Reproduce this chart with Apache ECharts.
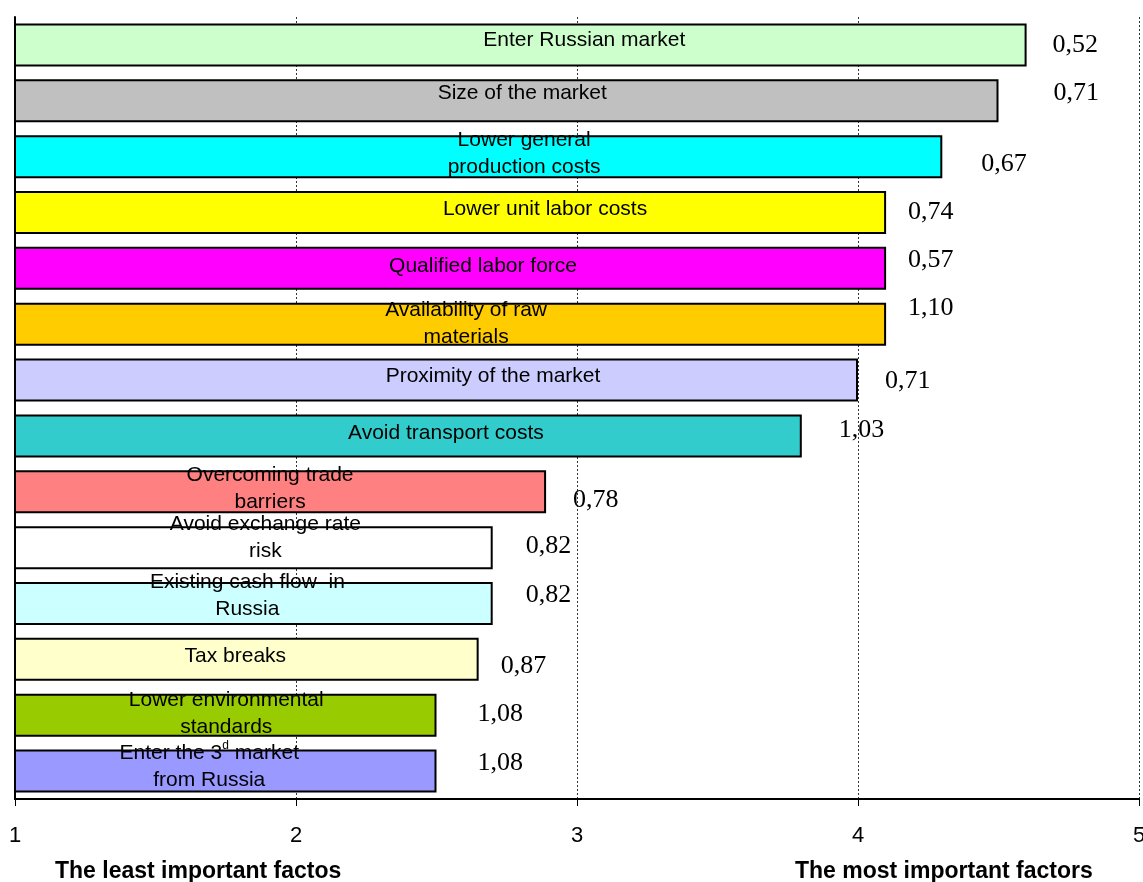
<!DOCTYPE html>
<html>
<head>
<meta charset="utf-8">
<title>Motives for investing in Russia</title>
<script src="https://cdn.jsdelivr.net/npm/echarts@6/dist/echarts.min.js"></script>
<style>
  html, body { margin: 0; padding: 0; background: #ffffff; }
  #chart { width: 1143px; height: 882px; }
</style>
</head>
<body>
<div id="chart"></div>
<script>
// Motives, from top to bottom
const factors = [
  'Enter Russian market',
  'Size of the market',
  'Lower general\nproduction costs',
  'Lower unit labor costs',
  'Qualified labor force',
  'Availability of raw\nmaterials',
  'Proximity of the market',
  'Avoid transport costs',
  'Overcoming trade\nbarriers',
  'Avoid exchange rate\nrisk',
  'Existing cash flow  in\nRussia',
  'Tax breaks',
  'Lower environmental\nstandards',
  'Enter the 3{sup|d} market\nfrom Russia'
];

// Mean importance score (1 = least important, 5 = most important)
const meanScore = [4.6, 4.5, 4.3, 4.1, 4.1, 4.1, 4.0, 3.8, 2.89, 2.7, 2.7, 2.65, 2.5, 2.5];

// Standard deviation of the score
const stdDev = [0.52, 0.71, 0.67, 0.74, 0.57, 1.10, 0.71, 1.03, 0.78, 0.82, 0.82, 0.87, 1.08, 1.08];

// Axis ticks
const axisTicks = [1, 2, 3, 4, 5];

const barColors = ['#CCFFCC', '#C0C0C0', '#00FFFF', '#FFFF00', '#FF00FF', '#FFCC00', '#CCCCFF',
                   '#33CCCC', '#FF8080', '#FFFFFF', '#CCFFFF', '#FFFFCC', '#99CC00', '#9999FF'];

// Label nudges [dx, dy] for the factor names and the deviation figures
const nameNudge = [[64, -5], [16, -8], [46, -3], [95, -3], [33, -2], [16, -1], [57, -4],
                   [38, -3], [-10, -3], [12, -10], [-6, -8], [-11, -3], [1, -2], [-16, -4]];
const sdNudge = [[21, 0], [50, -8], [34, 8], [17, 0], [17, -8], [17, -16], [22, 1],
                 [32, -6], [22, 8], [28, -1], [28, -8], [17, 7], [36, -1], [36, -8]];

const chart = echarts.init(document.getElementById('chart'), null, { renderer: 'canvas' });

const nameData = meanScore.map((v, i) => ({
  value: v,
  itemStyle: { color: barColors[i] },
  label: { offset: nameNudge[i] }
}));

const sdData = meanScore.map((v, i) => ({
  value: v,
  label: {
    offset: sdNudge[i],
    formatter: stdDev[i].toFixed(2).replace('.', ',')
  }
}));

chart.setOption({
  backgroundColor: '#ffffff',
  animation: false,
  grid: { left: 15, right: 4, top: 17, bottom: 83, containLabel: false, outerBoundsMode: 'none' },
  xAxis: {
    type: 'value',
    min: 1,
    max: 5,
    interval: 1,
    axisLine: { show: true, lineStyle: { color: '#000', width: 2 } },
    axisTick: { show: true, length: 7, lineStyle: { color: '#000', width: 1 } },
    axisLabel: {
      margin: 26,
      color: '#000',
      fontFamily: 'Liberation Sans, Arial, sans-serif',
      fontSize: 22,
      formatter: v => axisTicks.includes(v) ? String(v) : ''
    },
    splitLine: { show: true, lineStyle: { color: '#333', width: 1, type: [2, 2] } }
  },
  yAxis: {
    type: 'category',
    data: factors,
    inverse: true,
    axisLine: { show: true, lineStyle: { color: '#000', width: 2 } },
    axisTick: { show: false },
    axisLabel: { show: false },
    splitLine: { show: false }
  },
  series: [
    {
      type: 'bar',
      data: nameData,
      barCategoryGap: '23%',
      itemStyle: { borderColor: '#000', borderWidth: 2 },
      label: {
        show: true,
        position: 'inside',
        formatter: p => factors[p.dataIndex],
        color: '#000',
        fontFamily: 'Liberation Sans, Arial, sans-serif',
        fontSize: 21,
        lineHeight: 27,
        align: 'center',
        rich: {
          sup: {
            fontFamily: 'Liberation Sans, Arial, sans-serif',
            fontSize: 12,
            verticalAlign: 'top',
            padding: [0, 0, 10, 0],
            lineHeight: 27
          }
        }
      },
      z: 2
    },
    {
      type: 'bar',
      data: sdData,
      barGap: '-100%',
      barCategoryGap: '23%',
      silent: true,
      itemStyle: { color: 'rgba(0,0,0,0)' },
      label: {
        show: true,
        position: 'right',
        distance: 5,
        color: '#000',
        fontFamily: 'Liberation Serif, Times New Roman, serif',
        fontSize: 26
      },
      z: 3
    }
  ],
  graphic: [
    {
      type: 'text',
      left: 55,
      top: 860,
      style: {
        text: 'The least important factos',
        fill: '#000',
        font: 'bold 23px "Liberation Sans", Arial, sans-serif'
      }
    },
    {
      type: 'text',
      left: 795,
      top: 860,
      style: {
        text: 'The most important factors',
        fill: '#000',
        font: 'bold 23px "Liberation Sans", Arial, sans-serif'
      }
    }
  ]
});
</script>
</body>
</html>
